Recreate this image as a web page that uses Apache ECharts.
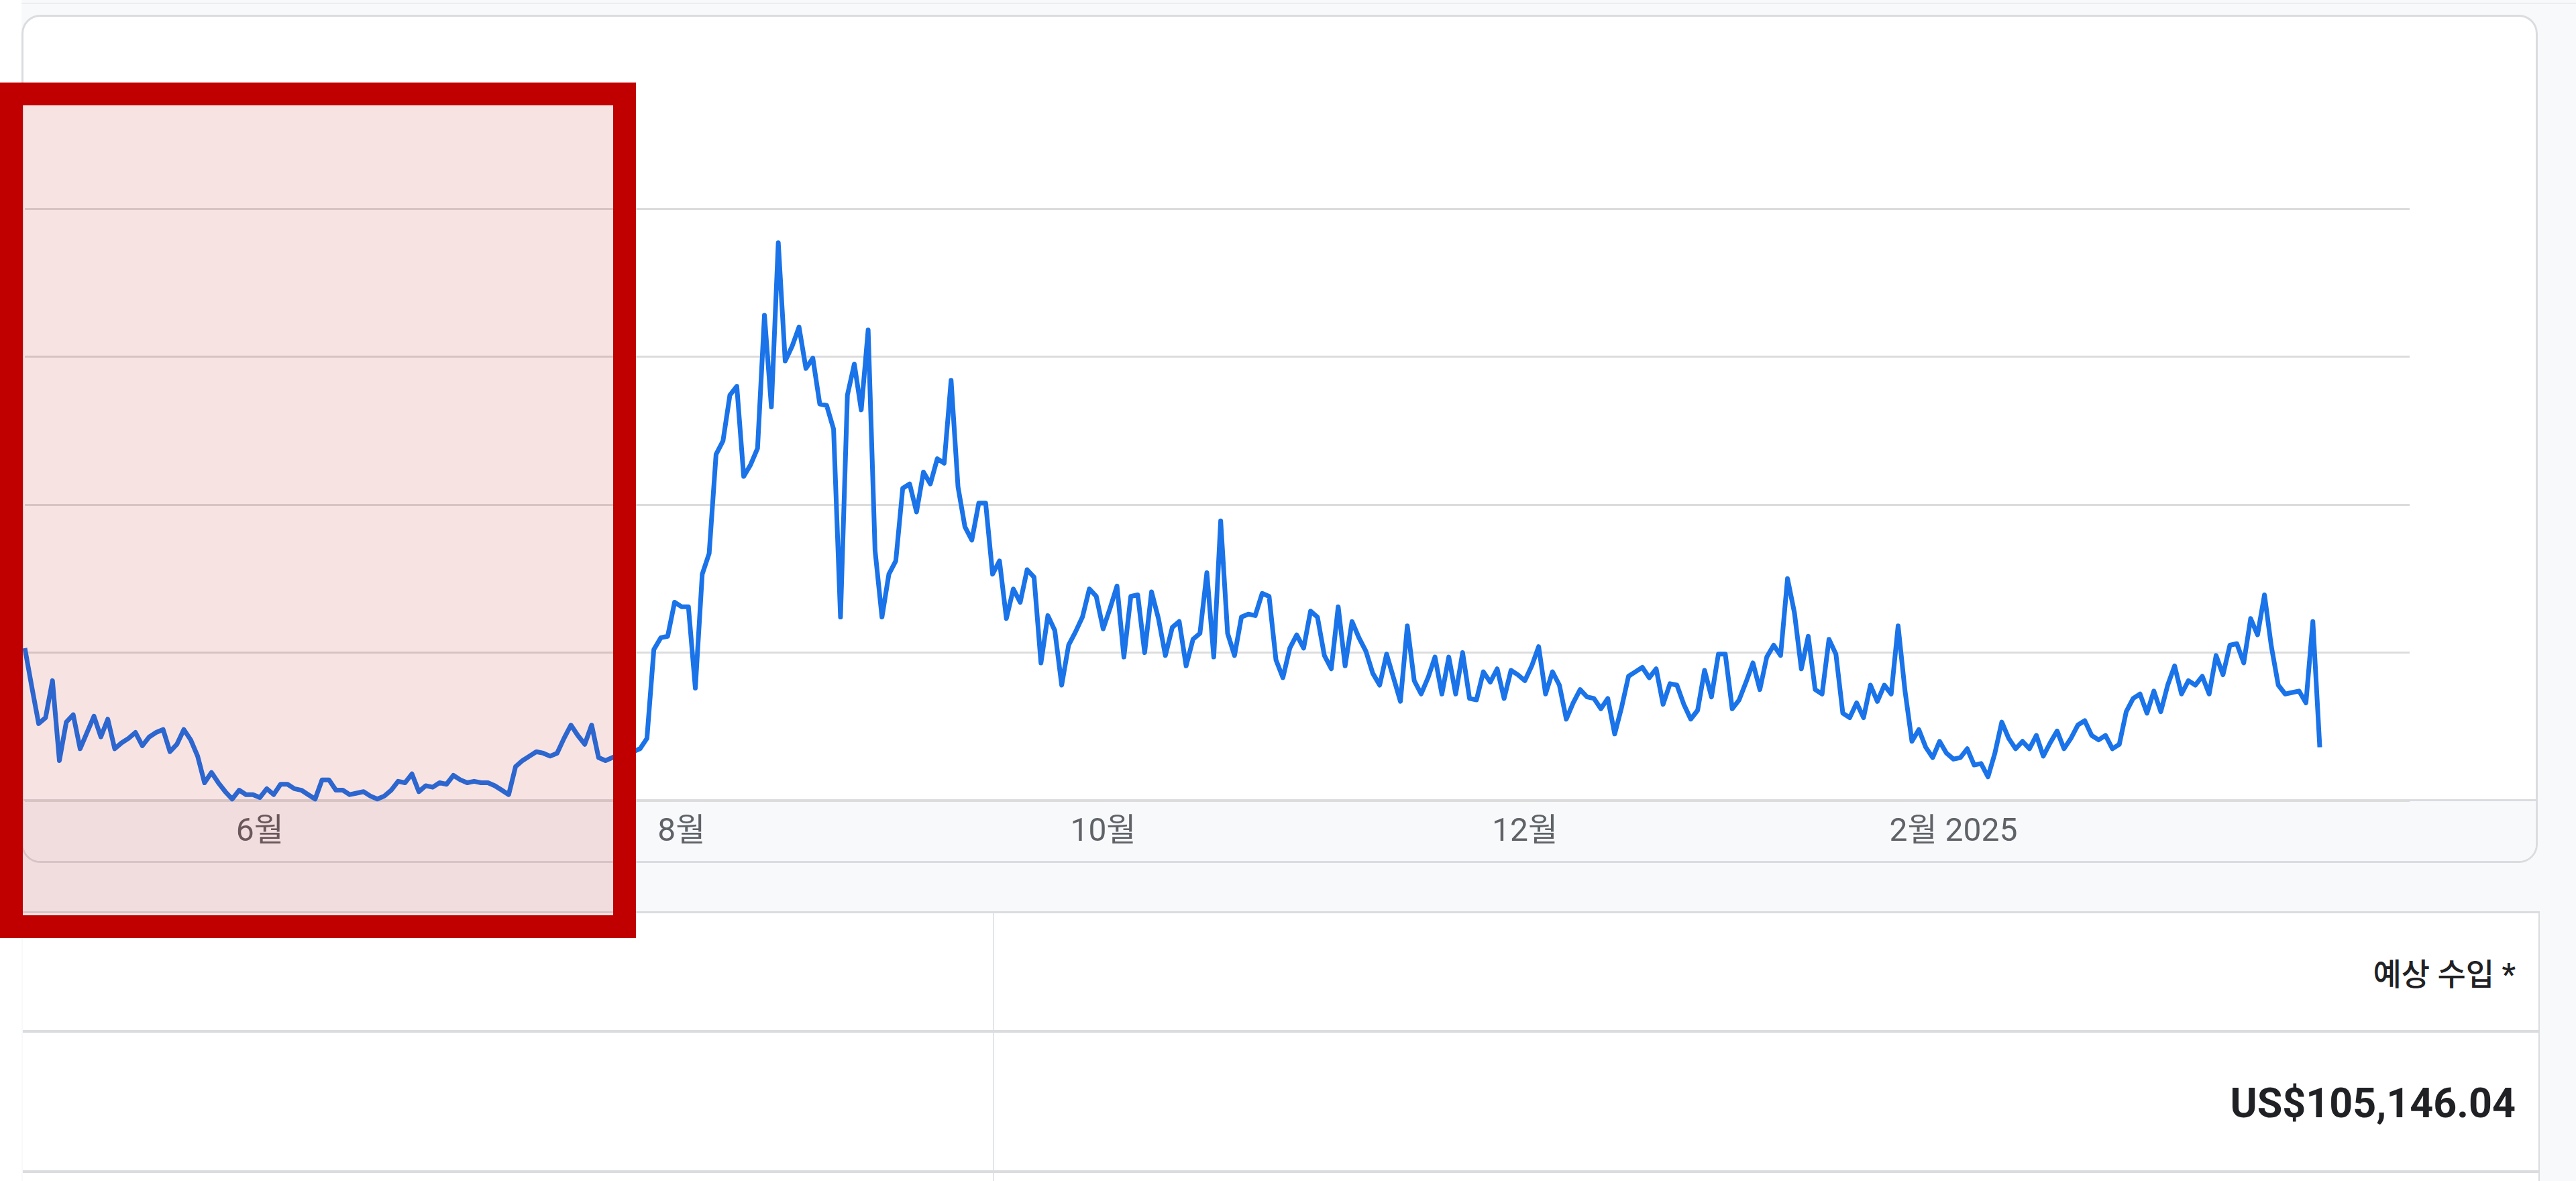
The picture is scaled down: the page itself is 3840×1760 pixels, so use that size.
<!DOCTYPE html>
<html>
<head>
<meta charset="utf-8">
<script src="https://cdn.jsdelivr.net/npm/echarts@6/dist/echarts.min.js"></script>
<style>
  html, body { margin: 0; padding: 0; }
  body { width: 3840px; height: 1760px; overflow: hidden; background: #ffffff; position: relative;
         font-family: Roboto, "Noto Sans CJK KR", sans-serif; }
  .page-bg { position: absolute; left: 32px; top: 0; right: 0; bottom: 0; background: #f8f9fa; }
  .top-rule { position: absolute; left: 32px; right: 0; top: 4px; height: 2px; background: #eceef0; }
  .card { position: absolute; left: 32px; top: 22px; width: 3751px; height: 1264px; box-sizing: border-box;
          background: #fff; border: 3px solid #dadce0; border-radius: 28px; overflow: hidden; }
  .axis-band { position: absolute; left: 0; right: 0; top: 1166px; bottom: 0; background: #f8f9fa;
               border-top: 3px solid #dadce0; }
  .table { position: absolute; left: 34px; top: 1358px; width: 3752px; height: 420px; box-sizing: border-box;
           background: #fff; border-top: 3px solid #dadce0; border-right: 2px solid #dadce0; }
  .row-line { position: absolute; left: 0; right: 0; height: 4px; background: #dadce0; }
  .col-line { position: absolute; left: 1446px; top: 0; bottom: 0; width: 2px; background: #e3e5e8; }
  .cell-text { position: absolute; right: 34px; white-space: nowrap; transform: translateY(-50%); }
  .head { top: 87px; font-size: 46px; font-weight: 500; color: #202124; }
  .money { top: 283px; font-size: 61px; font-weight: bold; color: #202124; }
  #chart { position: absolute; left: 0; top: 0; width: 3840px; height: 1760px; }
</style>
</head>
<body>
<div class="page-bg"></div>
<div class="top-rule"></div>
<div class="card"><div class="axis-band"></div></div>
<div class="table">
  <div class="col-line"></div>
  <div class="row-line" style="top:174px"></div>
  <div class="row-line" style="top:383px"></div>
  <div class="cell-text head">예상 수입 *</div>
  <div class="cell-text money">US$105,146.04</div>
</div>
<div id="chart"></div>
<script>
// daily estimated earnings (gridline step = 100)
const apr24 = [103, 77, 52];
const may24 = [56, 81, 27, 53, 58, 35, 46, 57, 43, 55, 35, 39, 42, 46, 37, 43, 46, 48, 33, 38,
  48, 41, 30, 12, 19, 12, 6, 1, 7, 4, 4];
const jun24 = [2, 8, 4, 11, 11, 8, 7, 4, 1, 14, 14, 7, 7, 4, 5, 6, 3, 1, 3, 7,
  13, 12, 18, 6, 10, 9, 12, 11, 17, 14];
const jul24 = [12, 13, 12, 12, 10, 7, 4, 23, 27, 30, 33, 32, 30, 32, 42, 51, 44, 38, 51, 29,
  27, 29, 31, 32, 33, 35, 42, 102, 110, 111, 134];
const aug24 = [131, 131, 76, 153, 167, 234, 243, 274, 280, 219, 227, 238, 328, 266, 377, 297, 307, 320, 292, 299,
  268, 267, 251, 124, 274, 295, 264, 318, 169, 124, 153];
const sep24 = [162, 211, 214, 195, 222, 214, 231, 228, 284, 212, 185, 176, 201, 201, 153, 162, 123, 143, 134, 156,
  151, 93, 125, 115, 78, 105, 114, 124, 143, 138];
const oct24 = [116, 130, 145, 97, 138, 139, 100, 141, 123, 98, 117, 121, 91, 109, 113, 154, 97, 189, 113, 98,
  124, 126, 125, 140, 138, 95, 83, 103, 112, 103, 128];
const nov24 = [124, 98, 89, 131, 91, 121, 110, 101, 86, 78, 99, 83, 67, 118, 81, 72, 83, 97, 72, 97,
  72, 100, 69, 68, 87, 80, 89, 69, 88, 85];
const dec24 = [81, 91, 104, 72, 87, 78, 55, 66, 75, 70, 69, 62, 69, 45, 63, 84, 87, 90, 83, 89,
  65, 79, 78, 65, 55, 61, 88, 70, 99, 99, 62];
const jan25 = [68, 80, 93, 75, 97, 105, 98, 150, 127, 89, 111, 75, 72, 109, 99, 59, 56, 66, 56, 78,
  67, 78, 72, 118, 74, 40, 48, 36, 29, 40, 32];
const feb25 = [28, 29, 35, 24, 25, 16, 32, 53, 42, 35, 40, 35, 44, 30, 39, 47, 35, 42, 51, 54,
  44, 41, 44, 35, 38, 60, 69, 72];
const mar25 = [59, 74, 60, 78, 91, 72, 81, 78, 84, 72, 98, 85, 105, 106, 93, 123, 112, 139, 104, 78,
  72, 73, 74, 66, 121, 36];

const startDate = '2024-04-28';
const axisEnd = '2025-04-08';
const tickDates = ['2024-06-01', '2024-08-01', '2024-10-01', '2024-12-01', '2025-02-01'];
const tickLabels = ['6월', '8월', '10월', '12월', '2월 2025'];

const values = [].concat(apr24, may24, jun24, jul24, aug24, sep24, oct24, nov24, dec24, jan25, feb25, mar25);

const buildDates = (from, to) => {
  const out = [];
  const d = new Date(from + 'T00:00:00Z');
  const end = new Date(to + 'T00:00:00Z');
  while (d <= end) {
    out.push(d.toISOString().slice(0, 10));
    d.setUTCDate(d.getUTCDate() + 1);
  }
  return out;
};
const dates = buildDates(startDate, axisEnd);
const seriesData = dates.map((_, i) => (i < values.length ? values[i] : null));

const chart = echarts.init(document.getElementById('chart'));
chart.setOption({
  animation: false,
  backgroundColor: 'transparent',
  grid: { left: 37, right: 248, top: 311, bottom: 567 },
  xAxis: {
    type: 'category',
    data: dates,
    boundaryGap: false,
    axisLine: { show: false },
    axisTick: { show: false },
    splitLine: { show: false },
    axisLabel: {
      interval: (idx, val) => tickDates.includes(val),
      formatter: (val) => tickLabels[tickDates.indexOf(val)] || '',
      fontSize: 48,
      color: '#5f6368',
      margin: 24,
      fontFamily: 'Roboto, "Noto Sans CJK KR"',
    },
  },
  yAxis: {
    type: 'value',
    min: 0,
    max: 400,
    interval: 100,
    axisLabel: { show: false },
    axisLine: { show: false },
    axisTick: { show: false },
    splitLine: { lineStyle: { color: '#dcdcdc', width: 3 } },
  },
  series: [
    {
      type: 'line',
      data: seriesData,
      showSymbol: false,
      connectNulls: false,
      lineStyle: { color: '#1a73e8', width: 7, join: 'round' },
      itemStyle: { color: '#1a73e8' },
    },
  ],
  graphic: [
    {
      type: 'rect',
      z: 100,
      shape: { x: 17, y: 140, width: 914, height: 1241 },
      style: { fill: 'rgba(192,0,0,0.11)', stroke: '#c00000', lineWidth: 34 },
    },
  ],
});
</script>
</body>
</html>
